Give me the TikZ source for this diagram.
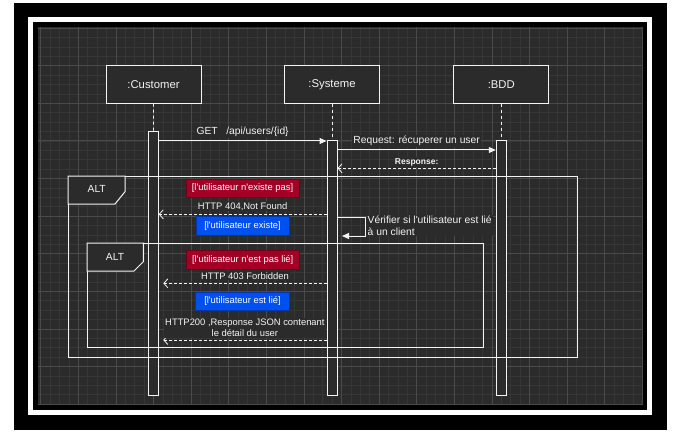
\documentclass[tikz,border=0pt]{standalone}
\usepackage{fontspec}
\setmainfont{Liberation Sans}[Ligatures=TeXOff]
\usetikzlibrary{arrows.meta,positioning}
\definecolor{bg}{HTML}{2B2B2B}
\definecolor{minorgrid}{HTML}{363636}
\definecolor{majorgrid}{HTML}{4A4A4A}
\definecolor{fg}{HTML}{F4F4F4}
\definecolor{redguard}{HTML}{A20025}
\definecolor{blueguard}{HTML}{0050EF}
\tikzstyle{vertex}=[draw=fg,fill=bg,text=fg,line width=1pt,minimum width=95pt,minimum height=37.3pt,font=\fontsize{11.3}{13}\selectfont]
\tikzstyle{bar}=[draw=fg,fill=bg,line width=1pt,minimum width=10pt,inner sep=0pt]
\tikzstyle{weight}=[text=fg,fill=bg,inner sep=1pt,font=\fontsize{10.3}{12}\selectfont]
\tikzstyle{weight2}=[text=fg,fill=bg,inner sep=1pt,align=center,font=\fontsize{9.4}{11.3}\selectfont]
\tikzstyle{weight3}=[text=fg,fill=bg,inner sep=1pt,font=\bfseries\fontsize{8.5}{10}\selectfont]
\tikzstyle{guard}=[text=white,line width=0.8pt,minimum height=18.5pt,inner sep=0pt,font=\fontsize{9.4}{11}\selectfont]
\tikzstyle{edge}=[draw=fg,line width=1pt,-{Triangle[length=7pt,width=6pt]}]
\tikzstyle{edge2}=[draw=fg,line width=0.8pt,dash pattern=on 3pt off 2pt,-{Straight Barb[length=4pt,width=9pt]}]
\tikzstyle{life}=[draw=fg,line width=0.8pt,dash pattern=on 3pt off 3pt]
\tikzstyle{frame}=[draw=fg,line width=1pt]

\begin{document}
\begin{tikzpicture}[x=1pt,y=-1pt]
\useasboundingbox (0,0) rectangle (696,441);
\fill[black] (14,3) rectangle (667,430);
\draw[white,line width=4.5pt] (30.5,19.5) rectangle (649.5,412.5);
\fill[bg] (38,27) rectangle (643,405);
\foreach \i in {0,...,64} \draw[minorgrid,line width=0.7pt] ({40.7+9.4*\i},27) -- ({40.7+9.4*\i},405);
\foreach \j in {0,...,40} \draw[minorgrid,line width=0.7pt] (38,{28.1+9.4*\j}) -- (643,{28.1+9.4*\j});
\foreach \i in {0,...,16} \draw[majorgrid,line width=0.8pt] ({40.7+37.6*\i},27) -- ({40.7+37.6*\i},405);
\foreach \j in {0,...,10} \draw[majorgrid,line width=0.8pt] (38,{28.1+37.6*\j}) -- (643,{28.1+37.6*\j});

\node[vertex] (1) at (153.5,84.5) {:Customer};
\node[vertex] (2) at (332,84.5) {:Systeme};
\node[vertex] (3) at (501.3,84.5) {:BDD};
\node[bar,minimum height=263pt] (4) at (153.2,263.5) {};
\node[bar,minimum height=254pt] (5) at (332,268) {};
\node[bar,minimum height=254pt] (6) at (501.3,268) {};
\path[life] (1) -- (4);
\path[life] (2) -- (5);
\path[life] (3) -- (6);

%% ALT frames
\draw[frame] (68,176) rectangle (577,357);
\draw[frame,fill=bg] (68,176) -- (125,176) -- (125,191.7) -- (115,204) -- (68,204) -- cycle;
\node[text=fg,font=\fontsize{10.3}{12}\selectfont] (10) at (96.7,189.3) {ALT};
\draw[frame] (87,243) rectangle (483,347);
\draw[frame,fill=bg] (87,243) -- (143.3,243) -- (143.3,261.7) -- (134,271) -- (87,271) -- cycle;
\node[text=fg,font=\fontsize{10.3}{12}\selectfont] (11) at (115,256.7) {ALT};

\coordinate (m1) at (0,141);
\coordinate (m2) at (0,150);
\coordinate (m3) at (0,168.3);
\coordinate (m4) at (0,214.3);
\coordinate (m5) at (163.3,283.3);
\coordinate (m6) at (163.3,340);
\coordinate (s1) at (365,217.3);
\coordinate (s2) at (365,236);
\coordinate (s3) at (342,236);

 \path[edge] (4.east |- m1) -- node[weight,above=2.5pt] {GET\ \ \ /api/users/\{id\}} (5.west |- m1);
 \path[edge] (5.east |- m2) -- node[weight,above=2.5pt] {Request: récuperer un user} (6.west |- m2);
 \path[edge2] (6.west |- m3) -- node[weight3,above=1pt] {Response:} (5.east |- m3);

\node[guard,fill=redguard,draw=redguard!70!black,minimum width=113pt] (12) at (242.5,188.2) {[l'utilisateur n'existe pas]};
 \path[edge2] (5.west |- m4) -- node[weight2,above=2.5pt] {HTTP 404,Not Found} (4.east |- m4);
\node[guard,fill=blueguard,draw=blueguard!70!black,minimum width=93pt] (13) at (242.5,225.8) {[l'utilisateur existe]};
 \path[edge] (5.east |- s1) -- (s1) -- (s2) -- (s3);
\node[weight,anchor=north west,align=left] (14) at (366.5,214.5) {Vérifier si l'utilisateur est lié\\à un client};

\node[guard,fill=redguard,draw=redguard!70!black,minimum width=113pt] (15) at (242.7,259.7) {[l'utilisateur n'est pas lié]};
 \path[edge2] (5.west |- m5) -- node[weight2,above=2.5pt] {HTTP 403 Forbidden} (m5);
\node[guard,fill=blueguard,draw=blueguard!70!black,minimum width=93.6pt] (16) at (242.5,301.2) {[l'utilisateur est lié]};
 \path[edge2] (5.west |- m6) -- node[weight2,above=2pt] {HTTP200 ,Response JSON contenant\\le détail du user} (m6);
\end{tikzpicture}
\end{document}
